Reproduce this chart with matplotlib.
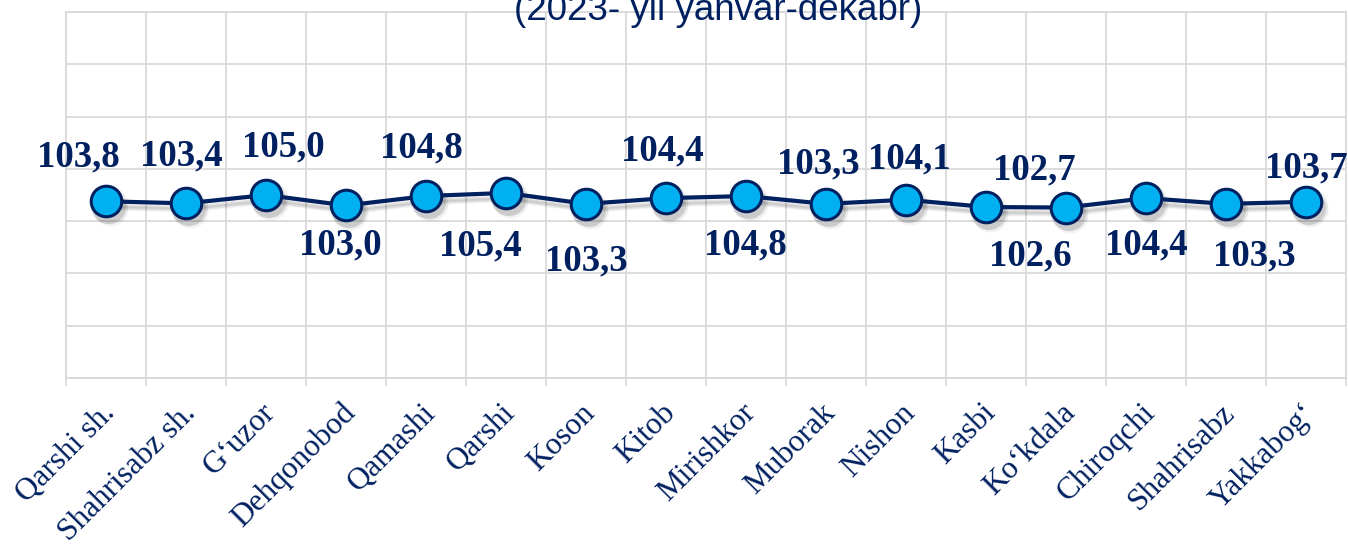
import numpy as np
import matplotlib
matplotlib.use("Agg")
import matplotlib.pyplot as plt
import matplotlib.transforms as mtransforms

# ---- data ----
categories = ["Qarshi sh.", "Shahrisabz sh.", "G\u2018uzor", "Dehqonobod", "Qamashi",
              "Qarshi", "Koson", "Kitob", "Mirishkor", "Muborak", "Nishon", "Kasbi",
              "Ko\u2018kdala", "Chiroqchi", "Shahrisabz", "Yakkabog\u2018"]
values = [103.8, 103.4, 105.0, 103.0, 104.8, 105.4, 103.3, 104.4,
          104.8, 103.3, 104.1, 102.7, 102.6, 104.4, 103.3, 103.7]
title_text = "(2023- yil yanvar-dekabr)"

# label offsets in pixels (dx, dy) relative to the marker
label_offsets = [(-28, 44), (-5, 47), (17, 48), (-6, -40), (-5, 48), (-26, -53),
                 (0, -57), (-4, 47), (-1, -49), (-8, 40), (3, 41), (48, 37),
                 (-36, -48), (0, -47), (28, -52), (0, 34)]

NAVY = "#002060"
FILL = "#00B0F0"
GRID = "#D9D9D9"

W, H, DPI = 1348, 544, 100
fig = plt.figure(figsize=(W / DPI, H / DPI), dpi=DPI)
ax = fig.add_axes([66 / W, 1 - 378 / H, (1346 - 66) / W, (378 - 12) / H])

x = np.arange(len(categories)) + 0.5

# shadow layers
for k, (ox, oy, a) in enumerate([(3, -6, 0.10), (2, -5, 0.10), (4, -7, 0.08), (3, -4, 0.08)]):
    tr = mtransforms.offset_copy(ax.transData, fig=fig, x=ox, y=oy, units="dots")
    ax.plot(x, values, linestyle="-", linewidth=3, color="black", alpha=a * 0.6,
            marker="o", markersize=24 + k, markerfacecolor="black",
            markeredgecolor="none", transform=tr, zorder=2)

ax.plot(x, values, linestyle="-", linewidth=3.0, color=NAVY, marker="o",
        markersize=22, markerfacecolor=FILL, markeredgecolor=NAVY,
        markeredgewidth=2.2, zorder=3, solid_capstyle="round")

for xi, v, (dx, dy) in zip(x, values, label_offsets):
    ax.annotate(f"{v:.1f}".replace(".", ","), (xi, v), xytext=(dx, dy),
                textcoords="offset pixels", ha="center", va="center",
                fontsize=26.5, fontweight="bold", family="Liberation Serif",
                color=NAVY, zorder=4)

ax.set_xlim(0, len(categories))
ax.set_ylim(70, 140)
ax.set_yticks(np.arange(70, 141, 10))
ax.set_yticklabels([])
ax.tick_params(axis="y", length=0)

ax.set_xticks(np.arange(len(categories) + 1))
ax.set_xticklabels([])
ax.tick_params(axis="x", which="major", length=6, width=1.2, color=GRID)
ax.set_xticks(x, minor=True)
ax.set_xticklabels(categories, minor=True, rotation=45, ha="right", va="center",
                   rotation_mode="anchor", family="Liberation Serif", fontsize=22.5,
                   color=NAVY)
ax.tick_params(axis="x", which="minor", length=0, pad=22)
shift = mtransforms.ScaledTranslation(5 / DPI, 0, fig.dpi_scale_trans)
for lbl in ax.get_xticklabels(minor=True):
    lbl.set_transform(lbl.get_transform() + shift)

ax.grid(True, which="major", color=GRID, linewidth=1.3)
ax.set_axisbelow(True)
for s in ax.spines.values():
    s.set_color(GRID)
    s.set_linewidth(1.3)

fig.text(718 / W, 1 - 20 / H, title_text, ha="center", va="baseline",
         family="Liberation Sans", fontsize=26.5, color=NAVY)

fig.savefig("out.png", dpi=DPI)
